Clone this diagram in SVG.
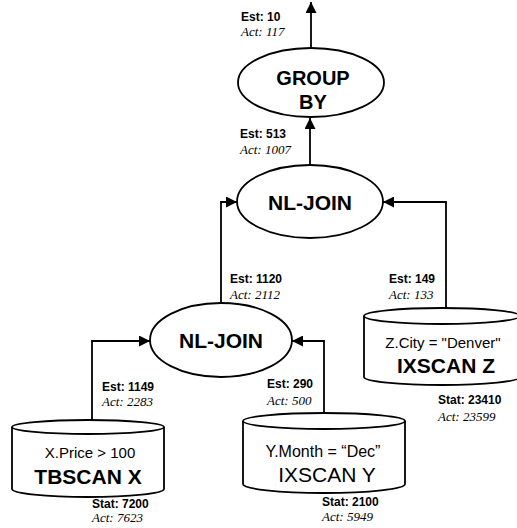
<svg xmlns="http://www.w3.org/2000/svg" width="517" height="528" viewBox="0 0 517 528">
<style>
.shape{fill:#fff;stroke:#000;stroke-width:1.8}
.line{fill:none;stroke:#000;stroke-width:1.8}
.title{font-family:"Liberation Sans",Arial,sans-serif;font-weight:bold;font-size:21px;text-anchor:middle;fill:#000}
.pred{font-family:"Liberation Sans",Arial,sans-serif;font-size:15px;text-anchor:middle;fill:#000}
.est{font-family:"Liberation Sans",Arial,sans-serif;font-weight:bold;font-size:12px;fill:#000}
.act{font-family:"Liberation Serif","Times New Roman",serif;font-style:italic;font-size:13px;fill:#000}
</style>
<defs>
<marker id="arr" markerUnits="userSpaceOnUse" markerWidth="11" markerHeight="11" refX="10" refY="5" orient="auto" viewBox="0 0 10 10">
<path d="M0,0 L10,5 L0,10 z" fill="#000"/>
</marker>
</defs>
<g id="connectors">
<path class="line" d="M311,48 V2" marker-end="url(#arr)"/>
<path class="line" d="M310,165 V118" marker-end="url(#arr)"/>
<path class="line" d="M221,302 V202 H237" marker-end="url(#arr)"/>
<path class="line" d="M446,308 V202 H383" marker-end="url(#arr)"/>
<path class="line" d="M92,421 V341 H150" marker-end="url(#arr)"/>
<path class="line" d="M324,413 V341 H292" marker-end="url(#arr)"/>
</g>
<g id="labels">
<text class="est" x="241" y="21">Est: 10</text>
<text class="act" x="241" y="36">Act: 117</text>
<text class="est" x="240" y="138">Est: 513</text>
<text class="act" x="240" y="154">Act: 1007</text>
<text class="est" x="230" y="283">Est: 1120</text>
<text class="act" x="230" y="299">Act: 2112</text>
<text class="est" x="389" y="283">Est: 149</text>
<text class="act" x="389" y="299">Act: 133</text>
<text class="est" x="102" y="391">Est: 1149</text>
<text class="act" x="102" y="406">Act: 2283</text>
<text class="est" x="267" y="388">Est: 290</text>
<text class="act" x="267" y="405">Act: 500</text>
<text class="est" x="92" y="508">Stat: 7200</text>
<text class="act" x="92" y="522">Act: 7623</text>
<text class="est" x="322" y="506">Stat: 2100</text>
<text class="act" x="322" y="521">Act: 5949</text>
<text class="est" x="438" y="404">Stat: 23410</text>
<text class="act" x="438" y="421">Act: 23599</text>
</g>
<g id="groupby">
<ellipse class="shape" cx="311" cy="82.5" rx="73" ry="34.5"/>
<text class="title" x="313" y="85" style="font-size:20px">GROUP</text>
<text class="title" x="313" y="109" style="font-size:20px">BY</text>
</g>
<g id="nljoin-upper">
<ellipse class="shape" cx="310" cy="201.5" rx="73" ry="36.5"/>
<text class="title" x="310" y="210">NL-JOIN</text>
</g>
<g id="nljoin-lower">
<ellipse class="shape" cx="221" cy="340" rx="71" ry="37"/>
<text class="title" x="221" y="348">NL-JOIN</text>
</g>
<g id="tbscan-x">
<path class="shape" d="M12,427 V489 A76,8 0 0 0 164,489 V427"/>
<ellipse class="shape" cx="88" cy="427" rx="76" ry="7"/>
<text class="pred" x="90" y="458">X.Price &gt; 100</text>
<text class="title" x="88" y="484">TBSCAN X</text>
</g>
<g id="ixscan-y">
<path class="shape" d="M243,421 V484 A81,9 0 0 0 405,484 V421"/>
<ellipse class="shape" cx="324" cy="421" rx="81" ry="8"/>
<text class="pred" x="323" y="457" style="font-size:16px">Y.Month = “Dec”</text>
<text class="title" x="327" y="482" style="font-weight:normal">IXSCAN Y</text>
</g>
<g id="ixscan-z">
<path class="shape" d="M364,316 V377 A78,8 0 0 0 520,377 V316"/>
<ellipse class="shape" cx="442" cy="316" rx="78" ry="8"/>
<text class="pred" x="443" y="348">Z.City = "Denver"</text>
<text class="title" x="446" y="373">IXSCAN Z</text>
</g>
</svg>
